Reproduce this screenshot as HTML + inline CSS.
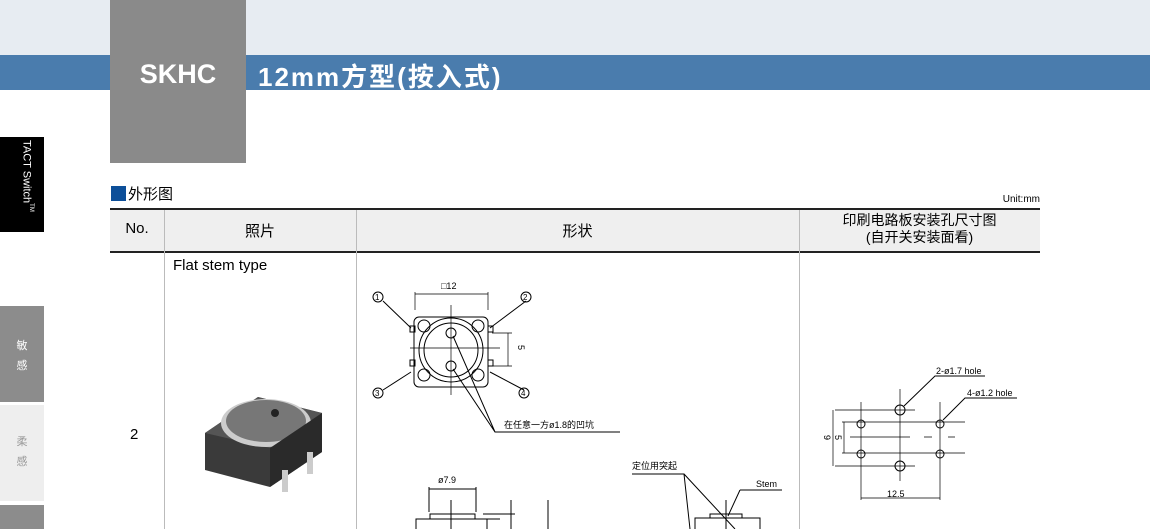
<!DOCTYPE html>
<html><head><meta charset="utf-8"><style>
body{margin:0;width:1150px;height:529px;overflow:hidden;background:#fff;position:relative;font-family:"Liberation Sans","Noto Sans CJK SC",sans-serif}
.a{position:absolute}
</style></head><body>
<div class="a" style="left:0;top:0;width:1150px;height:55px;background:#e7ecf2"></div>
<div class="a" style="left:0;top:55px;width:1150px;height:35px;background:#4a7cad"></div>
<div class="a" style="left:110px;top:0;width:136px;height:163px;background:#8a8a8a"></div>
<div class="a" style="left:110px;top:59px;width:136px;text-align:center;color:#fff;font-weight:bold;font-size:27px">SKHC</div>
<div class="a" style="left:258px;top:57px;color:#fff;font-size:26px;font-weight:bold;letter-spacing:2px">12mm方型(按入式)</div>
<div class="a" style="left:0;top:137px;width:44px;height:95px;background:#000"></div>
<div class="a" style="left:14px;top:140px;width:20px;height:90px;color:#fff;font-size:11px;writing-mode:vertical-rl;white-space:nowrap">TACT Switch<sup style="font-size:6px">TM</sup></div>
<div class="a" style="left:0;top:306px;width:44px;height:96px;background:#8c8c8c;color:#fff;font-size:11px;text-align:center;line-height:20px;padding-top:0"><div style="margin-top:30px">敏</div><div>感</div></div>
<div class="a" style="left:0;top:405px;width:44px;height:96px;background:#eeeeee;color:#999;font-size:11px;text-align:center;line-height:20px"><div style="margin-top:27px">柔</div><div>感</div></div>
<div class="a" style="left:0;top:505px;width:44px;height:24px;background:#8c8c8c"></div>
<div class="a" style="left:111px;top:186px;width:15px;height:15px;background:#0d4f99"></div>
<div class="a" style="left:128px;top:183px;font-size:15px">外形图</div>
<div class="a" style="left:990px;top:194px;width:50px;text-align:right;font-size:10px">Unit:mm</div>
<div class="a" style="left:110px;top:208px;width:930px;height:2px;background:#222"></div>
<div class="a" style="left:110px;top:210px;width:930px;height:41px;background:#efefef"></div>
<div class="a" style="left:110px;top:251px;width:930px;height:2px;background:#222"></div>
<div class="a" style="left:164px;top:210px;width:1px;height:319px;background:#bbb"></div>
<div class="a" style="left:356px;top:210px;width:1px;height:319px;background:#bbb"></div>
<div class="a" style="left:799px;top:210px;width:1px;height:319px;background:#bbb"></div>
<div class="a" style="left:110px;top:220px;width:54px;text-align:center;font-size:15px">No.</div>
<div class="a" style="left:164px;top:220px;width:192px;text-align:center;font-size:15px">照片</div>
<div class="a" style="left:356px;top:220px;width:443px;text-align:center;font-size:15px">形状</div>
<div class="a" style="left:799px;top:212px;width:241px;text-align:center;font-size:14px;line-height:17px">印刷电路板安装孔尺寸图<br>(自开关安装面看)</div>
<div class="a" style="left:173px;top:257px;font-size:15px">Flat stem type</div>
<div class="a" style="left:130px;top:426px;font-size:15px">2</div>
<svg class="a" style="left:0;top:0" width="1150" height="529" font-family="Liberation Sans,Noto Sans CJK SC,sans-serif">
<g>
<polygon points="205,433 258,397 322,413 322,452 270,487 205,470" fill="#3a3a3a"/>
<polygon points="205,433 258,397 322,413 270,448" fill="#555"/>
<ellipse cx="266" cy="423" rx="45" ry="24" fill="#ccc"/>
<ellipse cx="266" cy="421" rx="40" ry="21" fill="#777"/>
<circle cx="275" cy="413" r="4" fill="#222"/>
<polygon points="270,448 322,413 322,452 270,487" fill="#2a2a2a"/>
<rect x="282" y="470" width="6" height="22" fill="#ccc"/><rect x="307" y="452" width="6" height="22" fill="#ccc"/>
</g>
<g stroke="#000" stroke-width="1" fill="none">
<rect x="414" y="317" width="74" height="70" rx="5"/>
<circle cx="451" cy="350" r="32"/><circle cx="451" cy="350" r="27"/>
<circle cx="424" cy="326" r="6"/><circle cx="478" cy="326" r="6"/><circle cx="424" cy="375" r="6"/><circle cx="478" cy="375" r="6"/>
<circle cx="451" cy="333" r="5"/><circle cx="451" cy="366" r="5"/>
<path d="M415,292V310 M488,292V310 M415,294H488 M451,305V395 M410,348H500 M492,333H512 M492,366H512 M508,333V366" stroke-width="0.7"/>
<path d="M383,301L411,328 M526,301L490,328 M383,390L411,372 M524,390L490,372 M453,336L495,432 M453,369L495,432 H620"/>
<rect x="410" y="326" width="5" height="6" /><rect x="488" y="326" width="5" height="6"/><rect x="410" y="360" width="5" height="6"/><rect x="488" y="360" width="5" height="6"/>
<circle cx="378" cy="297" r="5"/><circle cx="526" cy="297" r="5"/><circle cx="378" cy="393" r="5"/><circle cx="524" cy="393" r="5"/>
<path d="M429,487V512 M476,487V512 M429,489H476 M416,529V519H487V529 M430,519V514H475V519 M451,500V529 M483,514H515 M480,519H500 M511,500V529 M548,500V529"/>
<path d="M632,474H684 L690,529 M684,474L735,529 M740,490H782 M740,490L728,516 M695,529V518H760V529 M710,518V514H742V518 M726,500V529"/>
<path d="M835,410H915 M842,422H965 M850,437H910 M924,437H932 M948,437H955 M842,453H965 M835,466H915 M900,389V481 M861,402V500 M940,402V500 M833,410V466 M844,422V453 M861,498H940" stroke-width="0.7"/>
<circle cx="900" cy="410" r="5"/><circle cx="900" cy="466" r="5"/>
<circle cx="861" cy="424" r="4"/><circle cx="940" cy="424" r="4"/><circle cx="861" cy="454" r="4"/><circle cx="940" cy="454" r="4"/>
<path d="M904,406L935,376H985 M943,420L965,398H1017"/>
</g>
<g font-size="9" fill="#000">
<text x="441" y="289">□12</text>
<text x="375" y="300" font-size="8">1</text><text x="523" y="300" font-size="8">2</text><text x="375" y="396" font-size="8">3</text><text x="521" y="396" font-size="8">4</text>
<text x="518" y="345" transform="rotate(90 518 345)">5</text>
<text x="504" y="428">在任意一方ø1.8的凹坑</text>
<text x="438" y="483">ø7.9</text>
<text x="632" y="469">定位用突起</text>
<text x="756" y="487">Stem</text>
<text x="936" y="374">2-ø1.7 hole</text>
<text x="967" y="396">4-ø1.2 hole</text>
<text x="887" y="497">12.5</text>
<text x="824" y="435" transform="rotate(90 824 435)">9</text>
<text x="835" y="435" transform="rotate(90 835 435)">5</text>
</g>
</svg>
</body></html>
